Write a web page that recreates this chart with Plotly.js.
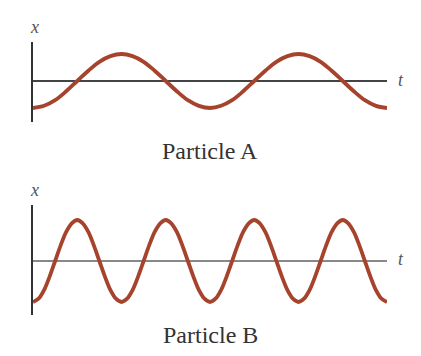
<!DOCTYPE html>
<html>
<head>
<meta charset="utf-8">
<script src="https://cdn.plot.ly/plotly-3.0.1.min.js"></script>
<style>html,body{margin:0;padding:0;background:#fff;}#chart{width:421px;height:356px;}</style>
</head>
<body>
<div id="chart"></div>
<script>
// Particle A: two slow oscillations (sixteenth-period samples)
var tA = [0, 0.125, 0.25, 0.375, 0.5, 0.625, 0.75, 0.875, 1,
          1.125, 1.25, 1.375, 1.5, 1.625, 1.75, 1.875, 2,
          2.125, 2.25, 2.375, 2.5, 2.625, 2.75, 2.875, 3,
          3.125, 3.25, 3.375, 3.5, 3.625, 3.75, 3.875, 4];
var xA = [-1, -0.92, -0.71, -0.38, 0, 0.38, 0.71, 0.92, 1, 0.92, 0.71, 0.38, 0, -0.38, -0.71, -0.92, -1,
          -0.92, -0.71, -0.38, 0, 0.38, 0.71, 0.92, 1, 0.92, 0.71, 0.38, 0, -0.38, -0.71, -0.92, -1];
// Particle B: four fast oscillations
var tB = [0, 0.0625, 0.125, 0.1875, 0.25, 0.3125, 0.375, 0.4375, 0.5, 0.5625, 0.625, 0.6875, 0.75, 0.8125, 0.875, 0.9375, 1,
          1.0625, 1.125, 1.1875, 1.25, 1.3125, 1.375, 1.4375, 1.5, 1.5625, 1.625, 1.6875, 1.75, 1.8125, 1.875, 1.9375, 2,
          2.0625, 2.125, 2.1875, 2.25, 2.3125, 2.375, 2.4375, 2.5, 2.5625, 2.625, 2.6875, 2.75, 2.8125, 2.875, 2.9375, 3,
          3.0625, 3.125, 3.1875, 3.25, 3.3125, 3.375, 3.4375, 3.5, 3.5625, 3.625, 3.6875, 3.75, 3.8125, 3.875, 3.9375, 4];
var xB = [-1, -0.92, -0.71, -0.38, 0, 0.38, 0.71, 0.92, 1, 0.92, 0.71, 0.38, 0, -0.38, -0.71, -0.92, -1,
          -0.92, -0.71, -0.38, 0, 0.38, 0.71, 0.92, 1, 0.92, 0.71, 0.38, 0, -0.38, -0.71, -0.92, -1,
          -0.92, -0.71, -0.38, 0, 0.38, 0.71, 0.92, 1, 0.92, 0.71, 0.38, 0, -0.38, -0.71, -0.92, -1,
          -0.92, -0.71, -0.38, 0, 0.38, 0.71, 0.92, 1, 0.92, 0.71, 0.38, 0, -0.38, -0.71, -0.92, -1];
var labelA = "Particle A";
var labelB = "Particle B";
var axisX = "x";
var axisT = "t";

var W = 421, H = 356;
function px(v){ return v / W; }
function py(v){ return 1 - v / H; }

var curveColor = "#a6432d";
var traces = [
  {x: tA, y: xA, xaxis: "x", yaxis: "y", mode: "lines",
   line: {color: curveColor, width: 3.8, shape: "spline", smoothing: 1}, hoverinfo: "skip"},
  {x: tB, y: xB, xaxis: "x2", yaxis: "y2", mode: "lines",
   line: {color: curveColor, width: 3.8, shape: "spline", smoothing: 1}, hoverinfo: "skip"}
];

function xax(anchor){
  return {domain: [px(33), px(387)], range: [0, 4], anchor: anchor,
    showgrid: false, zeroline: false, showticklabels: false, ticks: "", showline: false, fixedrange: true};
}
function yax(anchor, top, bottom, r0, r1, zc){
  return {domain: [py(bottom), py(top)], range: [r0, r1], anchor: anchor,
    showgrid: false, zeroline: true, zerolinecolor: zc, zerolinewidth: 2,
    showticklabels: false, ticks: "", showline: true, linecolor: "#333", linewidth: 2.5, fixedrange: true};
}

var serif = "Liberation Serif";
function ann(text, x, y, size, color, italic){
  var f = {family: serif, size: size, color: color};
  if (italic) f.style = "italic";
  return {text: text, x: px(x), y: py(y), xref: "paper", yref: "paper", showarrow: false,
    xanchor: "center", yanchor: "middle", font: f};
}
var annots = [
  ann(axisX, 34, 27, 18, "#555", true),
  ann(axisT, 401, 80, 18, "#555", true),
  ann(labelA, 210, 151, 24, "#333", false),
  ann(axisX, 34, 190, 18, "#555", true),
  ann(axisT, 401, 259, 18, "#555", true),
  ann(labelB, 210, 335, 24, "#333", false)
];

var layout = {
  width: W, height: H,
  margin: {l: 0, r: 0, t: 0, b: 0},
  paper_bgcolor: "#fff", plot_bgcolor: "rgba(0,0,0,0)",
  showlegend: false,
  xaxis: xax("y"),
  yaxis: yax("x", 42, 122, -1.519, 1.444, "#444"),
  xaxis2: xax("y2"),
  yaxis2: yax("x2", 205, 315, -1.317, 1.366, "#888"),
  annotations: annots
};

Plotly.newPlot("chart", traces, layout, {displayModeBar: false, staticPlot: true});
</script>
</body>
</html>
